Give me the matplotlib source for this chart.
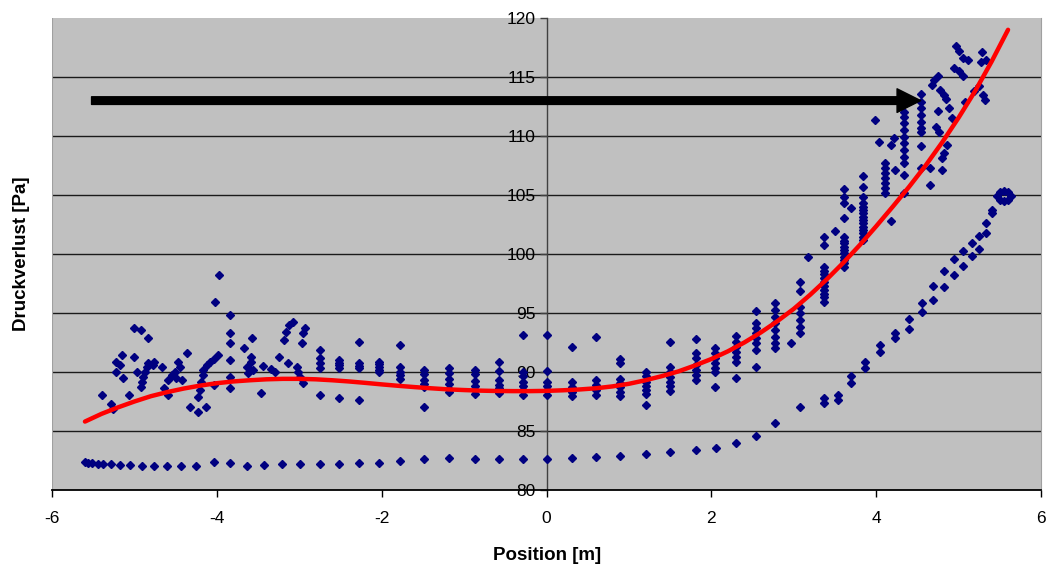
import numpy as np
import matplotlib
matplotlib.use("Agg")
import matplotlib.pyplot as plt

plt.rcParams['font.family'] = ['Liberation Sans', 'DejaVu Sans']

# lower series (smooth branch, splits into two lines on the right)
lower_x = [-5.60, -5.56, -5.51, -5.44, -5.38, -5.28, -5.17, -5.05, -4.91, -4.76, -4.61, -4.43,
           -4.25, -4.04, -3.84, -3.64, -3.43, -3.21, -2.99, -2.75, -2.52, -2.28, -2.03, -1.78,
           -1.49, -1.18, -0.87, -0.58, -0.29, 0.00, 0.31, 0.60, 0.89, 1.21, 1.50, 1.81, 2.06,
           2.30, 2.54, 2.77, 3.08, 3.37, 3.37, 3.54, 3.54, 3.70, 3.70, 3.86, 3.86, 4.05, 4.05,
           4.23, 4.23, 4.40, 4.40, 4.56, 4.56, 4.69, 4.69, 4.82, 4.82, 4.94, 4.94, 5.05, 5.05,
           5.16, 5.16, 5.25, 5.25, 5.33, 5.33, 5.40, 5.41,
           5.47, 5.50, 5.55, 5.60, 5.63, 5.60, 5.55, 5.50]
lower_y = [82.37, 82.31, 82.26, 82.23, 82.20, 82.18, 82.12, 82.12, 82.06, 82.03, 82.00, 82.03,
           82.06, 82.37, 82.26, 82.06, 82.12, 82.20, 82.20, 82.20, 82.20, 82.26, 82.31, 82.48,
           82.63, 82.69, 82.60, 82.60, 82.60, 82.60, 82.69, 82.77, 82.90, 83.05, 83.25, 83.39, 83.58,
           83.96, 84.58, 85.70, 87.06, 87.77, 87.40, 88.05, 87.63, 89.66, 89.04, 90.87, 90.31, 92.29, 91.72,
           93.33, 92.86, 94.47, 93.64, 95.82, 95.11, 97.29, 96.10, 98.58, 97.23, 99.55, 98.22, 100.25, 99.00,
           100.90, 99.83, 101.53, 100.45, 102.60, 101.80, 103.73, 103.45,
           104.90, 105.25, 105.38, 105.25, 104.90, 104.55, 104.45, 104.55]

# irregular cloud on the left
left_x = [-5.39, -5.28, -5.26, -5.22, -5.22, -5.18, -5.15, -5.14, -5.07, -5.01, -5.01, -4.97,
          -4.92, -4.84, -4.92, -4.91, -4.89, -4.87, -4.85, -4.83, -4.78, -4.76, -4.66, -4.64,
          -4.59, -4.59, -4.55, -4.51, -4.49, -4.47, -4.45, -4.42, -4.36, -4.32, -4.23, -4.23,
          -4.21, -4.19, -4.17, -4.17, -4.13, -4.12, -4.08, -4.04, -3.98, -4.04, -4.02, -3.97,
          -3.84, -3.84, -3.84, -3.84, -3.84, -3.84, -3.67, -3.64, -3.57, -3.59, -3.59, -3.56,
          -3.62, -3.46, -3.44, -3.34, -3.30, -3.24, -3.18, -3.16, -3.12, -3.08, -3.14, -3.03,
          -3.02, -2.99, -2.96, -2.93, -2.95, -2.97]
left_y = [88.05, 87.29, 86.90, 90.03, 90.87, 90.59, 91.44, 89.46, 88.05, 93.70, 91.30, 90.03,
          93.56, 92.91, 88.75, 89.18, 89.60, 90.03, 90.45, 90.74, 90.59, 90.87, 90.40, 88.62,
          88.05, 89.32, 89.75, 90.03, 89.46, 90.87, 90.45, 89.32, 91.64, 87.06, 86.64, 87.91,
          88.47, 89.18, 89.75, 90.17, 87.06, 90.59, 90.87, 91.10, 91.44, 88.90, 95.96, 98.22,
          94.83, 93.28, 92.48, 91.02, 89.60, 88.62, 92.00, 90.45, 92.86, 91.30, 90.87, 90.17,
          89.94, 88.25, 90.51, 90.23, 90.03, 91.24, 92.71, 93.42, 93.98, 94.26, 90.79, 90.45,
          90.03, 89.60, 89.04, 93.70, 93.28, 92.43]

# measurement columns
col_x = [-2.75, -2.52, -2.28, -2.03, -1.78, -1.49, -1.18, -0.87, -0.58, -0.29, 0.00, 0.31,
         0.60, 0.89, 1.21, 1.50, 1.81, 2.05, 2.30, 2.54, 2.77, 2.97, 3.07, 3.17, 3.37, 3.50,
         3.61, 3.70, 3.84, 3.98, 4.03, 4.11, 4.18, 4.22, 4.23, 4.34, 4.55, 4.65]
col_y = [[91.86, 91.2, 90.74, 90.31, 88.05],
         [91.02, 90.8, 90.59, 90.3, 87.77],
         [92.57, 90.74, 90.5, 90.31, 87.63],
         [90.87, 90.65, 90.45, 90.2, 90.03],
         [92.29, 90.45, 90.0, 89.75, 89.38],
         [90.17, 89.8, 89.32, 89.0, 88.7, 87.0],
         [90.3, 89.9, 89.4, 89.0, 88.6, 88.3],
         [90.2, 89.83, 89.26, 88.81, 88.47, 88.14],
         [90.87, 90.08, 89.32, 88.9, 88.62, 88.25],
         [93.14, 90.03, 89.66, 89.18, 88.81, 88.47, 88.05],
         [93.14, 90.11, 89.18, 88.81, 88.47, 88.05],
         [92.15, 89.18, 88.75, 88.33, 87.97],
         [92.94, 89.32, 88.9, 88.47, 88.05],
         [91.07, 90.74, 89.38, 89.04, 88.7, 88.33, 87.97],
         [90.03, 89.66, 89.18, 88.81, 88.47, 88.11, 87.18],
         [92.57, 90.45, 90.03, 89.6, 89.18, 88.81, 88.42],
         [92.8, 91.58, 91.16, 90.6, 90.17, 89.75, 89.32],
         [92.0, 91.58, 91.16, 90.74, 90.31, 90.03, 88.7],
         [93.05, 92.57, 92.15, 91.72, 91.3, 90.87, 89.49],
         [95.2, 94.18, 93.7, 93.28, 92.86, 92.43, 91.86, 90.45],
         [95.82, 95.25, 94.69, 94.12, 93.56, 92.99, 92.43, 92.0],
         [92.48],
         [97.65, 96.89, 95.54, 94.97, 94.41, 93.84, 93.28],
         [99.77],
         [101.41, 100.76, 98.92, 98.6, 98.31, 97.98, 97.65, 97.3, 96.95, 96.65, 96.38, 95.96],
         [101.95],
         [105.48, 104.86, 104.29, 103.02, 101.41, 101.1, 100.9, 100.6, 100.34, 100.05, 99.77, 99.5, 99.21, 98.9],
         [103.87],
         [106.61, 105.71, 104.86, 104.29, 104.0, 103.73, 103.45, 103.16, 102.88, 102.6, 102.31, 102.03, 101.75, 101.47, 101.2],
         [111.36],
         [109.52],
         [107.69, 107.26, 106.84, 106.41, 105.99, 105.57, 105.14],
         [109.24, 102.82],
         [109.8],
         [107.12],
         [112.06, 111.64, 111.08, 110.51, 109.94, 109.38, 108.81, 108.25, 107.69, 106.69, 105.14],
         [113.56, 112.91, 112.35, 111.78, 111.21, 110.65, 110.37, 109.15, 107.26],
         [107.26, 105.85]]

# irregular cloud on the right
right_x = [4.75, 4.80, 4.75, 4.70, 4.68, 4.78, 4.82, 4.85, 4.88, 4.92, 4.72, 4.76, 4.86, 4.82,
           4.80, 4.97, 5.00, 5.05, 5.11, 4.95, 5.00, 5.05, 5.25, 5.19, 5.08, 5.29, 5.33, 5.27,
           5.30, 5.32]
right_y = [112.12, 107.12, 115.08, 114.75, 114.32, 113.9, 113.47, 113.1, 112.35, 111.5, 110.79,
           110.37, 109.24, 108.53, 108.11, 117.65, 117.2, 116.6, 116.4, 115.8, 115.5, 115.1,
           114.25, 113.8, 112.9, 117.1, 116.4, 116.3, 113.47, 113.05]

# trend line
trend_x = [-5.6, -5.4, -5.2, -5.0, -4.8, -4.6, -4.4, -4.2, -4.0, -3.8, -3.6, -3.4, -3.2,
           -3.0, -2.8, -2.6, -2.4, -2.2, -2.0, -1.8, -1.6, -1.4, -1.2, -1.0, -0.8, -0.6,
           -0.4, -0.2, 0.0, 0.2, 0.4, 0.6, 0.8, 1.0, 1.2, 1.4, 1.6, 1.8, 2.0, 2.2, 2.4,
           2.6, 2.8, 3.0, 3.2, 3.4, 3.6, 3.8, 4.0, 4.2, 4.4, 4.6, 4.8, 5.0, 5.2, 5.4, 5.6]
trend_y = [85.8, 86.45, 87.0, 87.5, 87.95, 88.3, 88.6, 88.85, 89.05, 89.2, 89.3, 89.38, 89.42,
           89.42, 89.38, 89.3, 89.2, 89.08, 88.95, 88.83, 88.72, 88.62, 88.53, 88.47, 88.42, 88.39,
           88.38, 88.38, 88.4, 88.45, 88.52, 88.62, 88.78, 89.0, 89.3, 89.65, 90.05, 90.55, 91.1, 91.75, 92.5,
           93.35, 94.3, 95.35, 96.55, 97.85, 99.25, 100.75, 102.35, 104.0, 105.7, 107.5, 109.45, 111.55, 113.8, 116.3, 119.0]

arrow_start = -5.52
arrow_end = 4.54
arrow_level = 113.0

fig = plt.figure(figsize=(10.46, 5.69), dpi=100)
ax = fig.add_axes([52/1046, 1-490/569, 989/1046, 472/569])
ax.set_facecolor('#C0C0C0')

navy = '#000080'
ms = 4.2
ax.plot(lower_x, lower_y, 'D', color=navy, ms=ms, zorder=3)
ax.plot(left_x, left_y, 'D', color=navy, ms=ms, zorder=3)
for cx, ys in zip(col_x, col_y):
    ax.plot([cx]*len(ys), ys, 'D', color=navy, ms=ms, zorder=3)
ax.plot(right_x, right_y, 'D', color=navy, ms=ms, zorder=3)

ax.plot(trend_x, trend_y, color='#FF0000', lw=3.2, solid_capstyle='round',
        solid_joinstyle='round', zorder=4)

ax.annotate('', xy=(arrow_end, arrow_level), xytext=(arrow_start, arrow_level),
            arrowprops=dict(facecolor='black', edgecolor='black', width=5.5,
                            headwidth=17, headlength=17, shrink=0), zorder=5)

ax.set_xlim(-6, 6)
ax.set_ylim(80, 120)
ax.set_xticks(np.arange(-6, 7, 2))
ax.set_yticks(np.arange(80, 121, 5))
ax.set_xticklabels(['-6', '-4', '-2', '0', '2', '4', '6'])

for yv in range(85, 120, 5):
    ax.axhline(yv, color='#1a1a1a', lw=1.0, zorder=1)

ax.spines['left'].set_position(('data', 0))
ax.spines['left'].set_color('#404040')
ax.spines['left'].set_linewidth(1.0)
ax.spines['left'].set_zorder(2)
ax.spines['bottom'].set_color('black')
ax.spines['bottom'].set_linewidth(1.3)
ax.spines['right'].set_color('#A0A0A0')
ax.spines['top'].set_visible(False)
ax.axvline(-6, color='#A0A0A0', lw=1.5, zorder=1)

ax.tick_params(axis='x', direction='out', length=5, width=1, pad=10, labelsize=12.5)
ax.tick_params(axis='y', direction='out', length=5, width=1, pad=3, labelsize=12.5,
               color='#404040')

fig.text(547/1046, 1-555/569, 'Position [m]', ha='center', va='center',
         fontsize=13.5, fontweight='bold')
fig.text(22/1046, 1-254/569, 'Druckverlust [Pa]', ha='center', va='center',
         rotation=90, fontsize=13.5, fontweight='bold')

fig.savefig('out.png', dpi=100)
